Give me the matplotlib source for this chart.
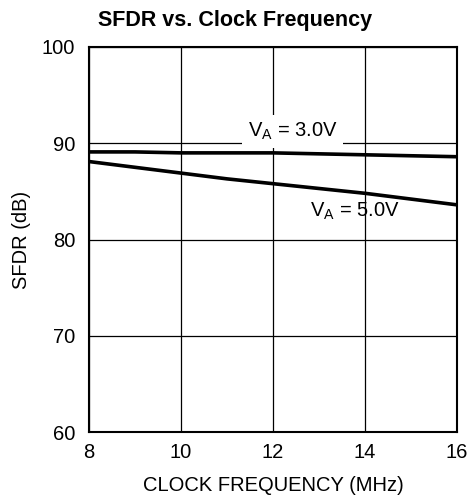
import matplotlib.pyplot as plt

plt.rcParams['font.family'] = ['Liberation Sans', 'DejaVu Sans']

freq = [8, 9, 10, 11, 12, 13, 14, 15, 16]
sfdr_3v = [89.1, 89.1, 89.0, 89.0, 89.0, 88.9, 88.8, 88.7, 88.6]
sfdr_5v = [88.1, 87.5, 86.9, 86.3, 85.8, 85.3, 84.8, 84.2, 83.6]

fig = plt.figure(figsize=(4.71, 5.01), dpi=100)
ax = fig.add_axes([89 / 471, 69 / 501, 368 / 471, 385 / 501])

ax.plot(freq, sfdr_3v, color='black', linewidth=2.6, zorder=3)
ax.plot(freq, sfdr_5v, color='black', linewidth=2.6, zorder=3)

ax.set_xlim(8, 16)
ax.set_ylim(60, 100)
ax.set_xticks([8, 10, 12, 14, 16])
ax.set_yticks([60, 70, 80, 90, 100])
ax.grid(True, color='black', linewidth=0.9)
ax.tick_params(length=0, labelsize=14.5)
ax.tick_params(axis='x', pad=8)
ax.tick_params(axis='y', pad=10)
for s in ax.spines.values():
    s.set_linewidth(1.5)

# label box breaks the 90 dB gridline like in the datasheet
ax.text(12.43, 91.2, '$\\mathregular{V_A}$ = 3.0V', fontsize=14.5, ha='center', va='center',
        bbox=dict(facecolor='white', edgecolor='none', pad=4), zorder=2.5)
ax.text(13.78, 82.9, '$\\mathregular{V_A}$ = 5.0V', fontsize=14.5, ha='center', va='center', zorder=4)

ax.set_xlabel('CLOCK FREQUENCY (MHz)', fontsize=14.5, labelpad=10)
ax.set_ylabel('SFDR (dB)', fontsize=14.5, labelpad=8)
fig.text(0.5, 0.96, 'SFDR vs. Clock Frequency', fontsize=15.5, fontweight='bold', ha='center', va='center')

fig.savefig('out.png', dpi=100)
